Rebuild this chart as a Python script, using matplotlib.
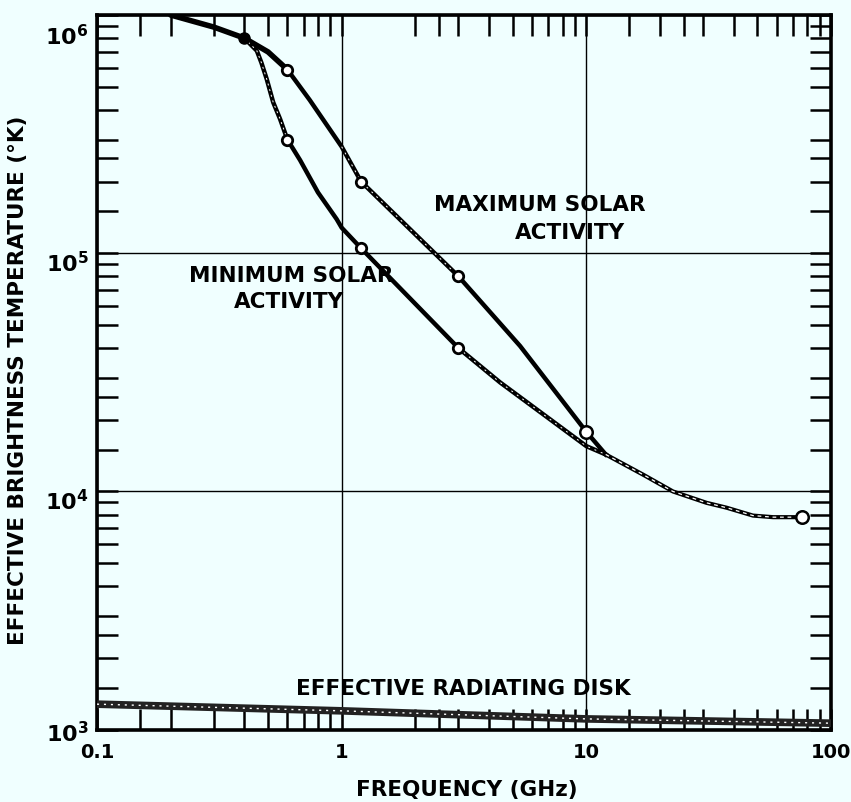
import matplotlib
matplotlib.use('Agg')
import matplotlib.pyplot as plt
from matplotlib.ticker import FixedLocator, FixedFormatter, NullFormatter
import matplotlib.transforms as mtransforms

# ---- data ----
max_f = [0.2, 0.3, 0.4, 0.5, 0.6, 0.74, 1.0, 1.2, 2.4, 3.0, 5.36, 10.0, 12.0]
max_T = [1.0e6, 8.9e5, 8.0e5, 7.0e5, 5.9e5, 4.4e5, 2.8e5, 2.0e5, 1.0e5, 8.0e4, 4.08e4, 1.78e4, 1.43e4]
min_f = [0.4, 0.45, 0.47, 0.494, 0.525, 0.56, 0.6, 0.676, 0.80, 0.954, 1.0, 1.2, 3.0, 4.44, 10.0, 12.0]
min_T = [8.0e5, 7.08e5, 6.3e5, 5.38e5, 4.3e5, 3.66e5, 3.0e5, 2.46e5, 1.80e5, 1.39e5, 1.28e5, 1.05e5,
         4.0e4, 2.87e4, 1.55e4, 1.43e4]
tail_f = [12.0, 17.1, 22.6, 31.0, 37.4, 48.0, 58.0, 76.0]
tail_T = [1.43e4, 1.175e4, 1.0e4, 8.96e3, 8.55e3, 7.92e3, 7.8e3, 7.8e3]
disk_f = [0.1, 1.0, 10.0, 100.0]
disk_T = [1280, 1200, 1110, 1065]

max_mark_f = [0.6, 1.2, 3.0]
max_mark_T = [5.9e5, 2.0e5, 8.0e4]
min_mark_f = [0.6, 1.2, 3.0]
min_mark_T = [3.0e5, 1.05e5, 4.0e4]
shared_f = [0.4]
shared_T = [8.0e5]
open_f = [10.0, 76.0]
open_T = [1.78e4, 7.8e3]

x_major = [0.1, 1, 10, 100]
x_major_labels = ['0.1', '1', '10', '100']
x_minor = [0.15, 0.2, 0.3, 0.4, 0.5, 0.6, 0.7, 0.8, 0.9,
           2, 2.5, 3, 4, 5, 6, 7, 8, 9,
           15, 20, 25, 30, 40, 50, 60, 70, 80, 90]
y_major = [1e3, 1e4, 1e5, 1e6]
y_major_labels = [r'$10^{3}$', r'$10^{4}$', r'$10^{5}$', r'$10^{6}$']
y_sub = [1.5, 2, 2.5, 3, 4, 5, 6, 7, 8, 9]
y_decades = [1e3, 1e4, 1e5]

BG = '#F0FFFF'
W, H = 851, 803

plt.rcParams['font.family'] = ['DejaVu Sans']
plt.rcParams['font.weight'] = 'bold'
plt.rcParams['mathtext.default'] = 'bf'

fig = plt.figure(figsize=(W / 100, H / 100), dpi=100, facecolor=BG)
L, R, T, B = 97, 831, 16, 730.7
ax = fig.add_axes([L / W, 1 - B / H, (R - L) / W, (B - T) / H], facecolor=BG)
ax.set_xscale('log')
ax.set_yscale('log')
ax.set_xlim(0.1, 100)
ax.set_ylim(1e3, 1e6)

def P(x, y):
    return (x / W, 1 - y / H)

# grid
ax.grid(True, which='major', color='black', lw=1.0)
ax.set_axisbelow(True)

# effective radiating disk band
ax.plot(disk_f, disk_T, color='#222222', lw=5.5, solid_capstyle='butt', zorder=3)
ax.plot(disk_f, disk_T, color='white', lw=1.0, dashes=(1.5, 3.5), zorder=3.1)

# curves
ax.plot(max_f[:5], max_T[:5], color='black', lw=4.0, solid_capstyle='round', zorder=4)
ax.plot(max_f[4:], max_T[4:], color='black', lw=3.2, solid_joinstyle='round', zorder=4)
ax.plot(min_f, min_T, color='black', lw=3.2, solid_joinstyle='round', zorder=4)
ax.plot(tail_f, tail_T, color='black', lw=3.0, solid_joinstyle='round', zorder=4)
# hollow/speckled centre in some stretches
ax.plot(max_f[6:10], max_T[6:10], color='white', lw=0.7, dashes=(2, 5), zorder=4.1)
ax.plot(min_f[:7], min_T[:7], color='white', lw=0.7, dashes=(2, 4), zorder=4.1)
ax.plot(min_f[12:], min_T[12:], color='white', lw=0.7, dashes=(2, 5), zorder=4.1)
ax.plot(tail_f, tail_T, color='white', lw=0.9, dashes=(3, 3), zorder=4.1)

ax.plot(max_mark_f, max_mark_T, 'o', ms=7.5, mfc='white', mec='black', mew=2, zorder=5)
ax.plot(min_mark_f, min_mark_T, 'o', ms=7.5, mfc='white', mec='black', mew=2, zorder=5)
ax.plot(shared_f, shared_T, 'o', ms=8, mfc='black', mec='black', zorder=5)
ax.plot(open_f, open_T, 'o', ms=9, mfc='white', mec='black', mew=1.8, zorder=5)

# ticks
ax.xaxis.set_major_locator(FixedLocator(x_major))
ax.xaxis.set_major_formatter(FixedFormatter(x_major_labels))
ax.xaxis.set_minor_locator(FixedLocator(x_minor))
ax.xaxis.set_minor_formatter(NullFormatter())
ax.yaxis.set_major_locator(FixedLocator(y_major))
ax.yaxis.set_major_formatter(FixedFormatter(y_major_labels))
ax.yaxis.set_minor_locator(FixedLocator([d * s for d in y_decades for s in y_sub]))
ax.yaxis.set_minor_formatter(NullFormatter())

ax.tick_params(which='both', direction='in', top=True, right=True,
               length=15, width=1.8, color='black')
ax.tick_params(axis='x', which='major', pad=9, labelsize=14)
ax.tick_params(axis='y', which='major', pad=6, labelsize=16)

y_offsets_px = [-1, -7, -7, -19]
for lab, off in zip(ax.get_yticklabels(), y_offsets_px):
    lab.set_transform(lab.get_transform() +
                      mtransforms.ScaledTranslation(0, off / 100, fig.dpi_scale_trans))

for s in ax.spines.values():
    s.set_linewidth(2.6)
    s.set_color('black')

# texts
tk = dict(fontsize=15.5, fontweight='bold', ha='center', va='center', color='black')
fig.text(*P(540, 205), 'MAXIMUM SOLAR', **tk)
fig.text(*P(570, 233), 'ACTIVITY', **tk)
fig.text(*P(291, 276), 'MINIMUM SOLAR', **tk)
fig.text(*P(289, 302), 'ACTIVITY', **tk)
fig.text(*P(463, 689), 'EFFECTIVE RADIATING DISK', **tk)
fig.text(*P(467, 790), 'FREQUENCY (GHz)', **tk)
fig.text(*P(18, 380), 'EFFECTIVE BRIGHTNESS TEMPERATURE (\u00b0K)', rotation=90, **tk)

fig.savefig('out.png', dpi=100, facecolor=BG)
